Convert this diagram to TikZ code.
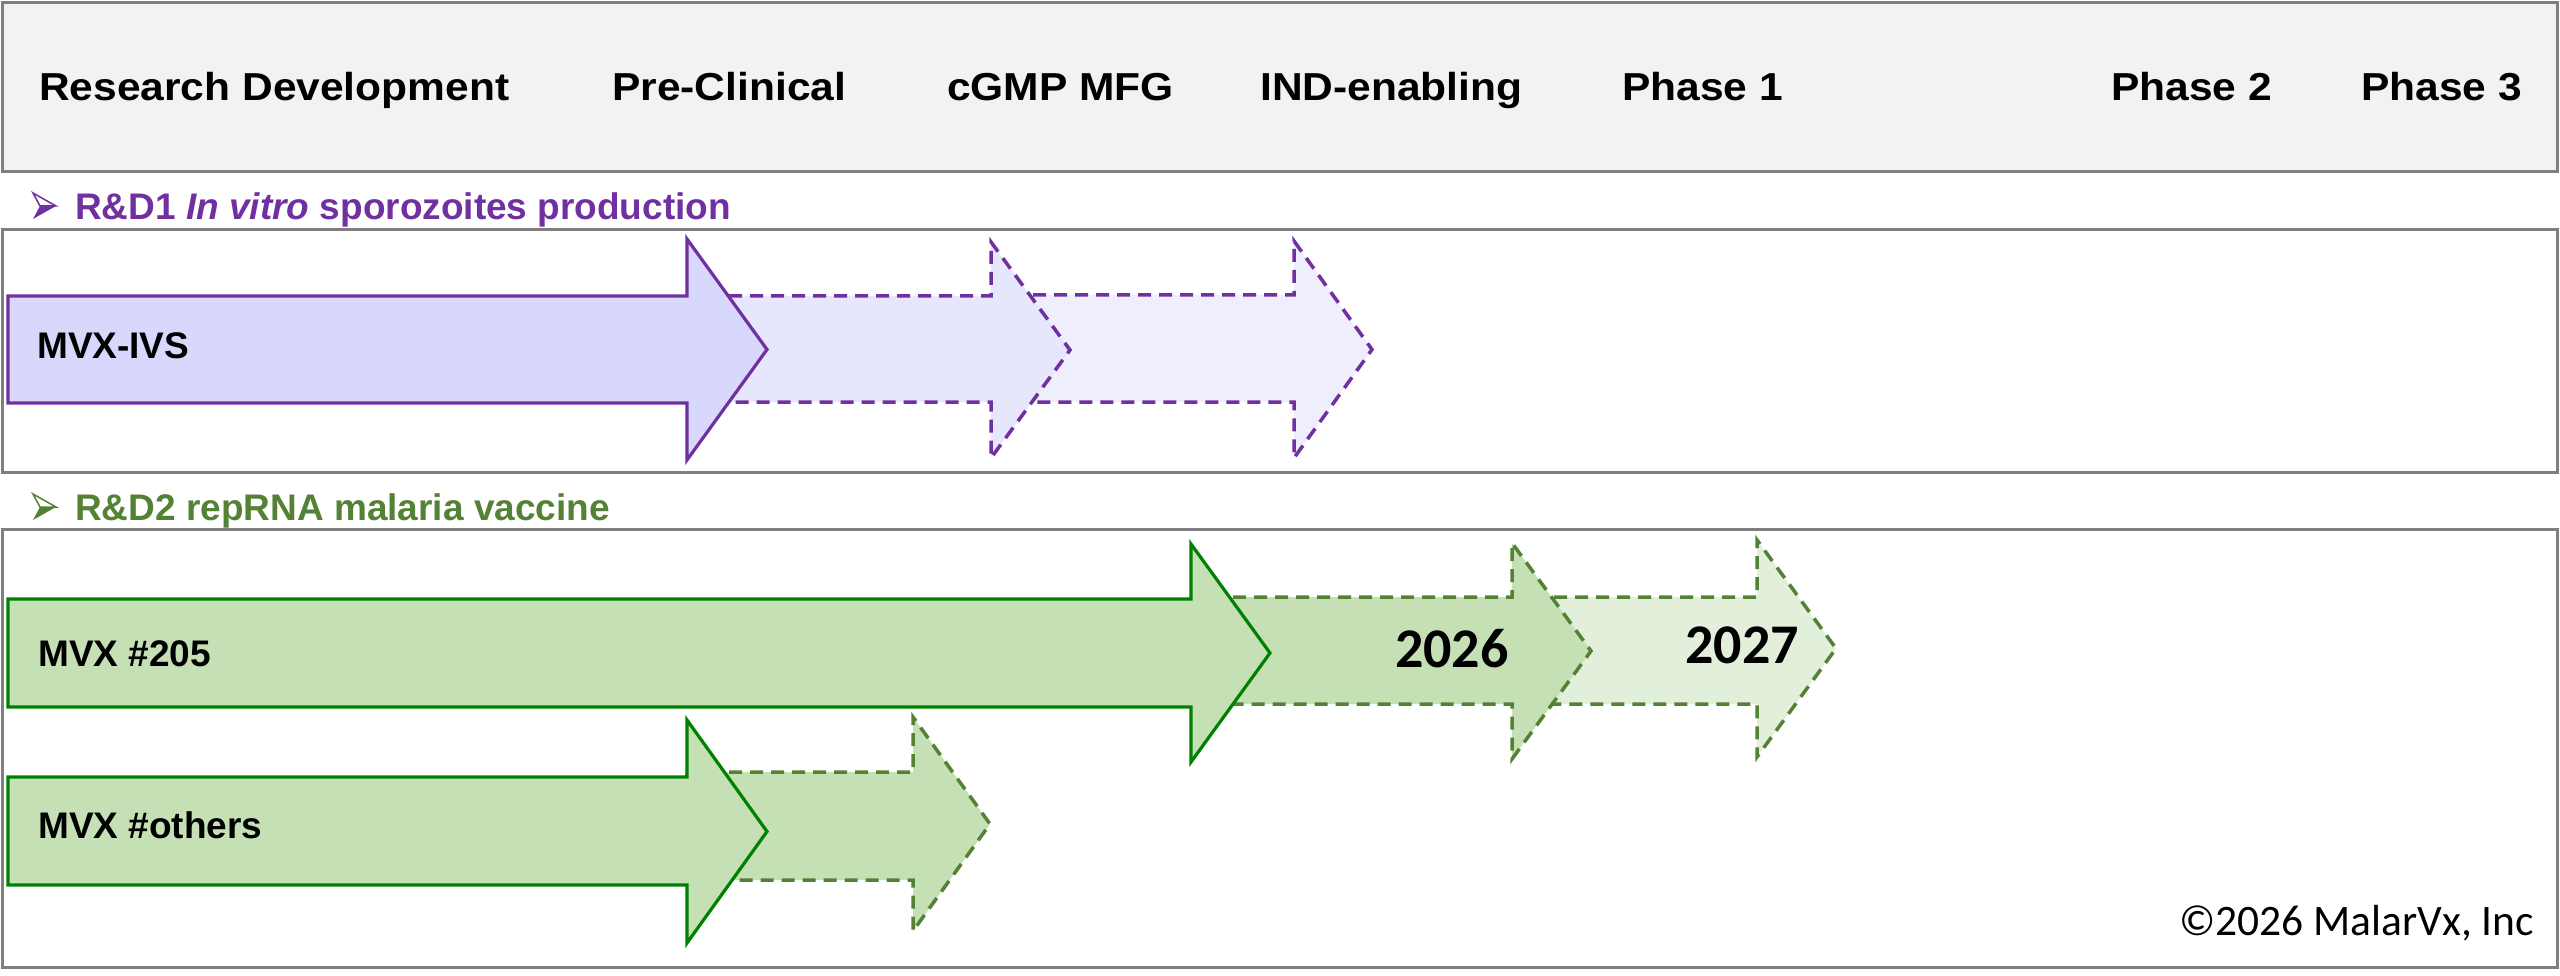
\documentclass[tikz,border=0pt]{standalone}
\usepackage{graphicx}
\usepackage{fontspec}
\setmainfont{Liberation Sans}
\newfontfamily\calib{Carlito}
\definecolor{boxgray}{HTML}{7F7F7F}
\definecolor{hdrfill}{HTML}{F2F2F2}
\definecolor{purp}{HTML}{7030A0}
\definecolor{pfillA}{HTML}{D8D8FC}
\definecolor{pfillB}{HTML}{E6E6FC}
\definecolor{pfillC}{HTML}{EEEEFD}
\definecolor{grn}{HTML}{548235}
\definecolor{grnsolid}{HTML}{008000}
\definecolor{gfillA}{HTML}{C5E0B4}
\definecolor{gfillB}{HTML}{E2EFDA}
\tikzset{
  panel/.style={draw=boxgray, line width=3pt},
  solidarrow/.style={line width=3.2pt, line join=miter},
  dasharrow/.style={line width=3.5pt, dash pattern=on 13pt off 8pt},
  hdr/.style={anchor=base west, inner sep=0pt, font=\fontsize{39}{40}\selectfont\bfseries},
  lbl/.style={anchor=base west, inner sep=0pt, font=\fontsize{37}{38}\selectfont\bfseries},
  yr/.style={anchor=base west, inner sep=0pt, font=\calib\fontsize{56}{58}\selectfont\bfseries},
}
% #1 style, #2 shaft left, #3 head base, #4 tip, #5 shaft top, #6 shaft bottom, #7 head top, #8 head bottom
\newcommand\myarrow[8]{%
  \draw[#1] (#2,#5) -- (#3,#5) -- (#3,#7) -- (#4,{(#7+#8)/2}) -- (#3,#8) -- (#3,#6) -- (#2,#6) -- cycle;}
\newcommand\hs[1]{\scalebox{1.09}[1]{#1}}
\newcommand\bullhead[3]{% #1 color, #2 x, #3 y (top-left)
  \fill[#1] (#2+7,#3+13) -- (#2+23,#3+13) -- (#2,#3+26) -- cycle;
  \draw[#1, line width=1.5pt, line join=miter] (#2,#3) -- (#2+23,#3+13) -- (#2+7,#3+13) -- cycle;}
\begin{document}
\begin{tikzpicture}[x=1pt, y=-1pt]
\useasboundingbox (0,0) rectangle (2560,976);
% panels
\draw[panel, fill=hdrfill] (2.5,2.5) rectangle (2557,172);
\draw[panel] (2.5,230) rectangle (2557,472);
\draw[panel] (2.5,529) rectangle (2557,967);
% header texts
\node[hdr] (rd)  at (39,101)   {\hs{Research Development}};
\node[hdr] (pc)  at (612,101)  {\hs{Pre-Clinical}};
\node[hdr] (mfg) at (947,101)  {\hs{cGMP MFG}};
\node[hdr] (ind) at (1260,101) {\hs{IND-enabling}};
\node[hdr] (p1)  at (1622,101) {\hs{Phase 1}};
\node[hdr] (p2)  at (2111,101) {\hs{Phase 2}};
\node[hdr] (p3)  at (2361,101) {\hs{Phase 3}};
% section labels
\bullhead{purp}{33}{193}
\node[lbl, text=purp] (rd1) at (75,220) {R\&D1 \textit{In vitro} sporozoites production};
\bullhead{grn}{33}{494}
\node[lbl, text=grn] (rd2) at (75,520) {R\&D2 repRNA malaria vaccine};
% purple row (back to front)
\myarrow{dasharrow, draw=purp, fill=pfillC}{991}{1294}{1372}{295}{402}{241}{458}
\myarrow{dasharrow, draw=purp, fill=pfillB}{687}{991}{1070}{296}{402}{242}{458}
\myarrow{solidarrow, draw=purp, fill=pfillA}{8}{687}{767}{296}{403}{239}{460}
\node[lbl] (ivs) at (37,359) {MVX-IVS};
% green row 1
\myarrow{dasharrow, draw=grn, fill=gfillB}{1512}{1757}{1836}{597}{704}{540}{757}
\myarrow{dasharrow, draw=grn, fill=gfillA}{1191}{1512}{1591}{597}{704}{543}{759}
\myarrow{solidarrow, draw=grnsolid, fill=gfillA}{8}{1191}{1270}{599}{707}{544}{762}
\node[lbl] (m205) at (38,666) {MVX \#205};
\node[yr] (y26) at (1395,667) {2026};
\node[yr] (y27) at (1685,663) {2027};
% green row 2
\myarrow{dasharrow, draw=grn, fill=gfillA}{687}{913}{990}{772}{880}{717}{931}
\myarrow{solidarrow, draw=grnsolid, fill=gfillA}{8}{687}{767}{777}{885}{720}{943}
\node[lbl] (moth) at (38,838) {MVX \#others};
% copyright
\node[anchor=base west, inner sep=0pt, font=\calib\fontsize{43.5}{45}\selectfont] (copy) at (2179,935) {©2026 MalarVx, Inc};
\end{tikzpicture}
\end{document}
